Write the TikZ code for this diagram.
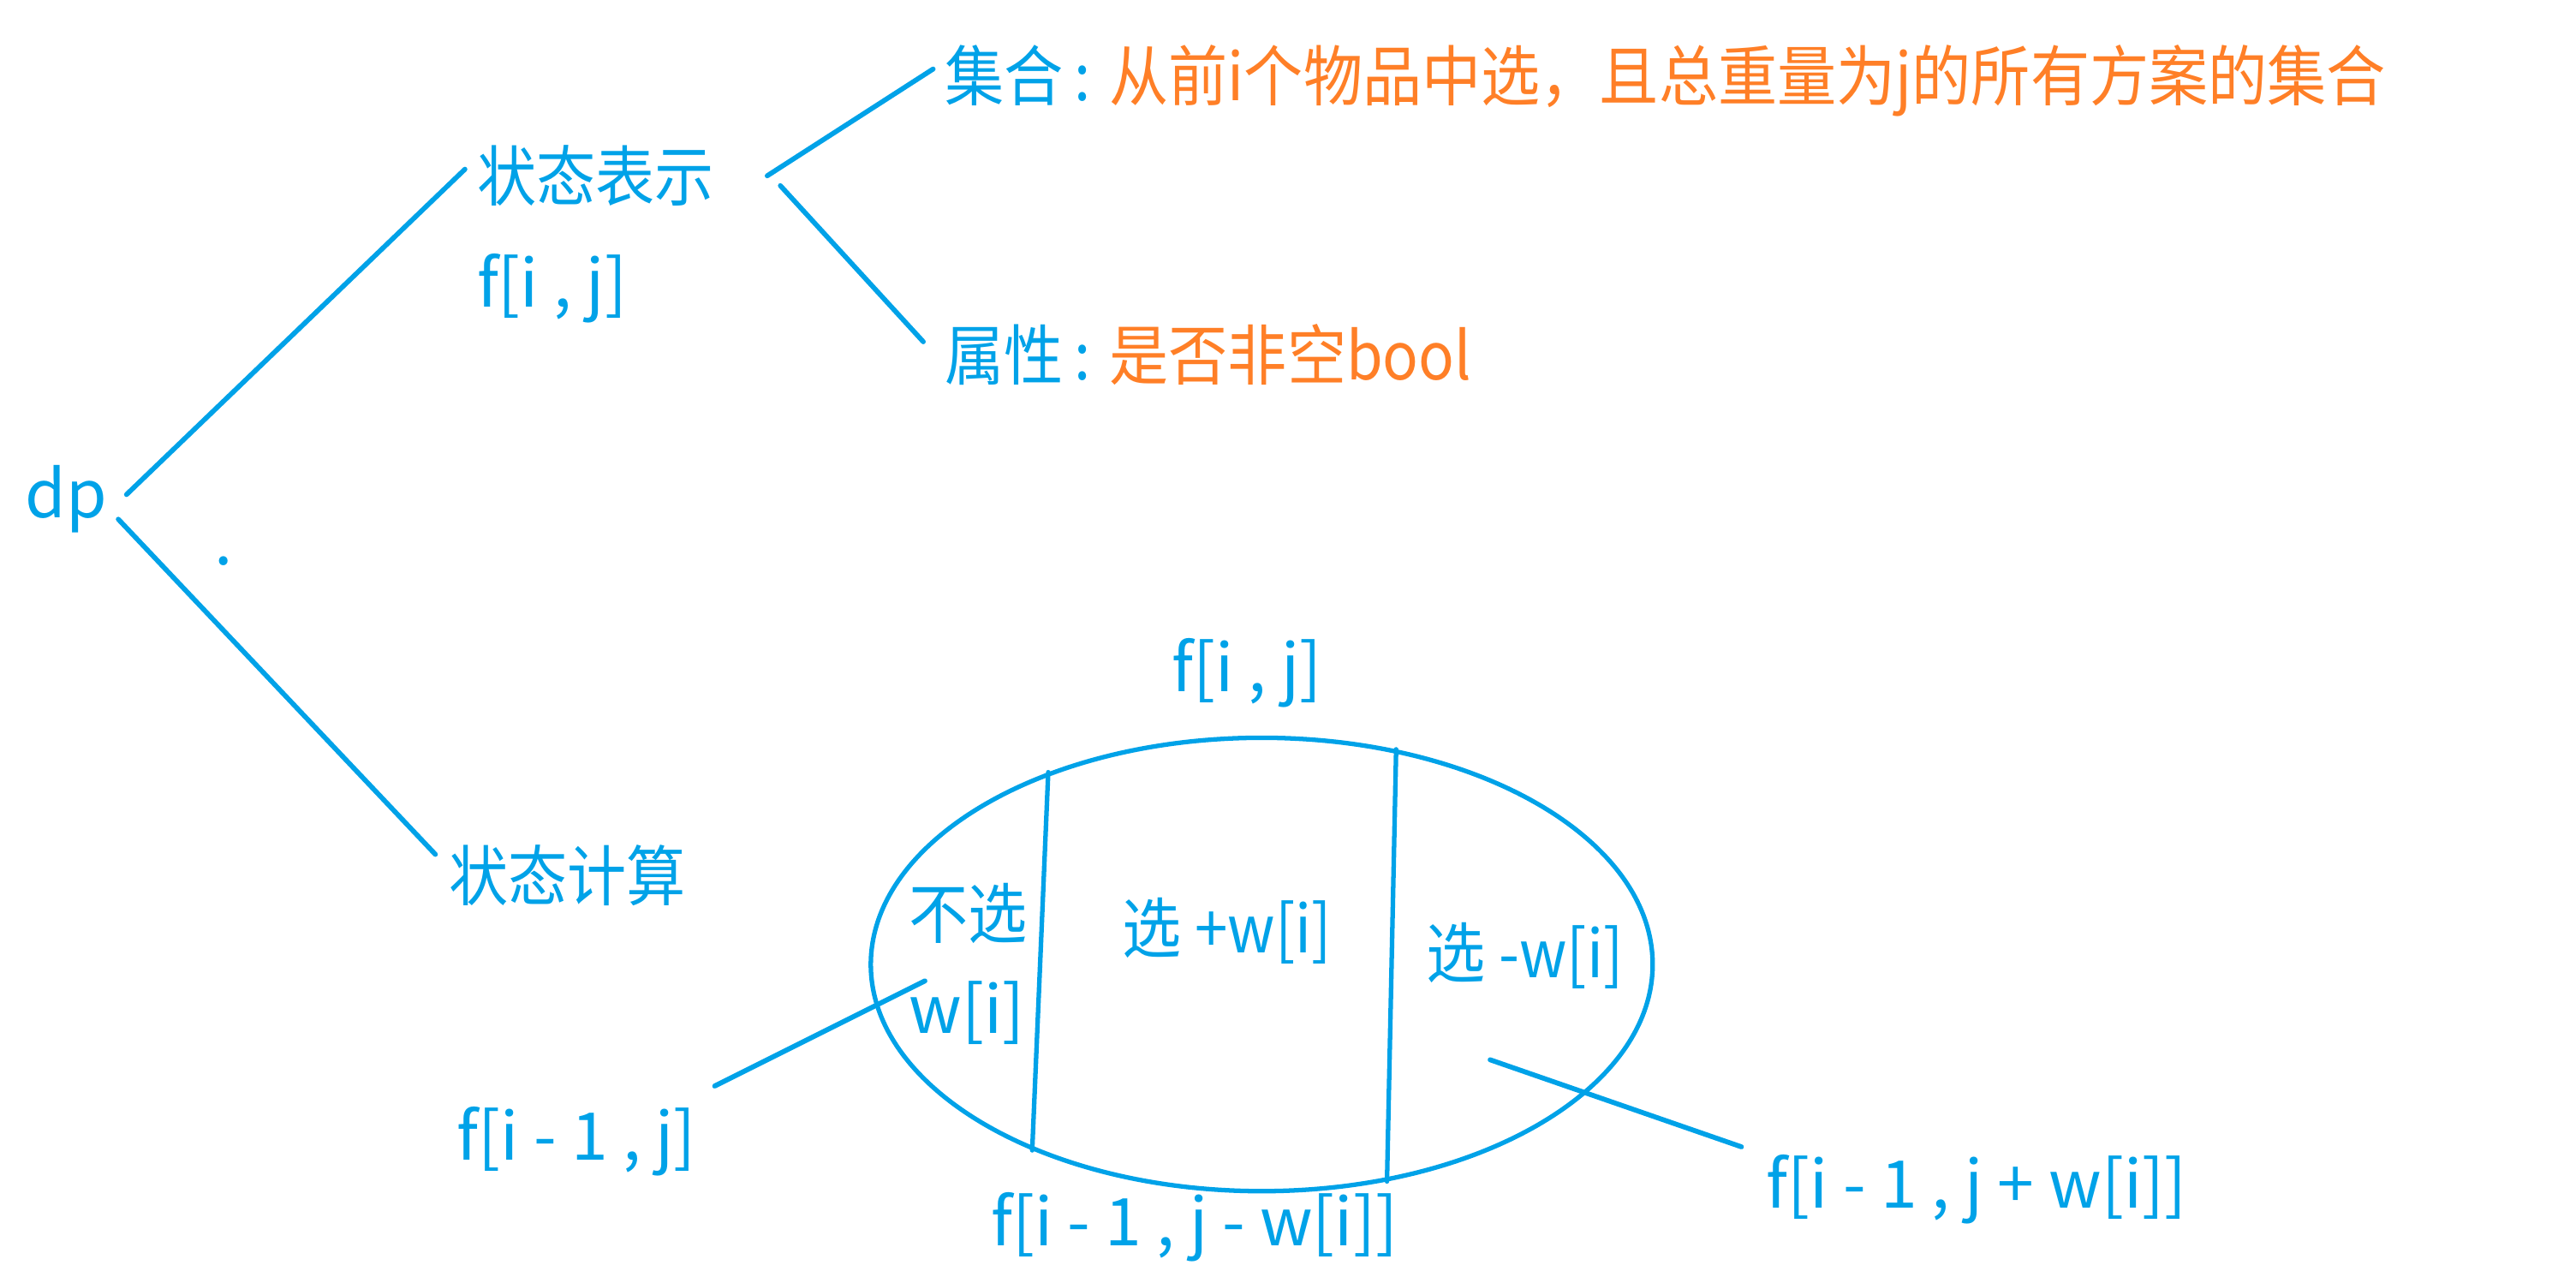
\documentclass[tikz,border=0pt]{standalone}
\usepackage{fontspec}
\setmainfont[FakeStretch=0.90]{Noto Sans CJK SC}
\newfontfamily\latn{Noto Sans CJK SC}
\usetikzlibrary{shapes.geometric}
\definecolor{cblue}{RGB}{0,162,232}
\definecolor{corange}{RGB}{255,127,39}
\begin{document}
\begin{tikzpicture}[x=0.02cm,y=-0.02cm,
  txt/.style={text=cblue, inner sep=0pt, anchor=base west, font=\fontsize{22.8pt}{27pt}\selectfont},
  ltxt/.style={txt, font=\fontsize{22.8pt}{27pt}\selectfont\latn},
  otxt/.style={txt, text=corange},
  conn/.style={draw=cblue, line width=0.06cm, line cap=round},
  thin/.style={draw=cblue, line width=0.055cm, line cap=round}]
\useasboundingbox (0,0) rectangle (1568,777);
% texts
\node[ltxt] (dp) at (15,315) {dp};
\node[txt] (repr) at (290,122) {状态表示};
\node[ltxt] (fij) at (290,187) {f[i , j]};
\node[txt] (set) at (575,61) {集合\,:};
\node[otxt] (setdesc) at (675,61) {从前i个物品中选，且总重量为j的所有方案的集合};
\node[txt] (attr) at (575,231) {属性\,:};
\node[otxt] (attrdesc) at (675,231) {是否非空bool};
\node[txt] (calc) at (273,548) {状态计算};
\node[ltxt, anchor=base] (dot) at (136,344) {.};
\node[ltxt] (ftop) at (713,421) {f[i , j]};
\node[txt] (no) at (553,571) {不选};
\node[ltxt] (wi) at (553,629) {w[i]};
\node[txt] (plus) at (683,580) {选 +w[i]};
\node[txt] (minus) at (868,595) {选 -w[i]};
\node[ltxt] (fl) at (278,706) {f[i - 1 , j]};
\node[ltxt] (fb) at (603,758) {f[i - 1 , j - w[i]]};
\node[ltxt] (fr) at (1075,735) {f[i - 1 , j + w[i]]};
% ellipse
\node[ellipse, thin, inner sep=0pt, minimum width=9.52cm, minimum height=5.52cm] (E) at (768,587) {};
\draw[thin] (E.138.9) -- (E.219.5);
\draw[thin] (E.58.1) -- (E.300.1);
% connector endpoints
\coordinate (a1) at (77,301); \coordinate (a2) at (283,103);
\coordinate (b1) at (72,316); \coordinate (b2) at (265,520);
\coordinate (c1) at (467,107); \coordinate (c2) at (568,42);
\coordinate (d1) at (475,113); \coordinate (d2) at (562,208);
\coordinate (e1) at (435,661); \coordinate (e2) at (563,597);
\coordinate (g1) at (907,645); \coordinate (g2) at (1060,698);
\draw[conn] (a1) -- (a2);
\draw[conn] (b1) -- (b2);
\draw[conn] (c1) -- (c2);
\draw[conn] (d1) -- (d2);
\draw[conn] (e1) -- (e2);
\draw[conn] (g1) -- (g2);
\end{tikzpicture}
\end{document}
